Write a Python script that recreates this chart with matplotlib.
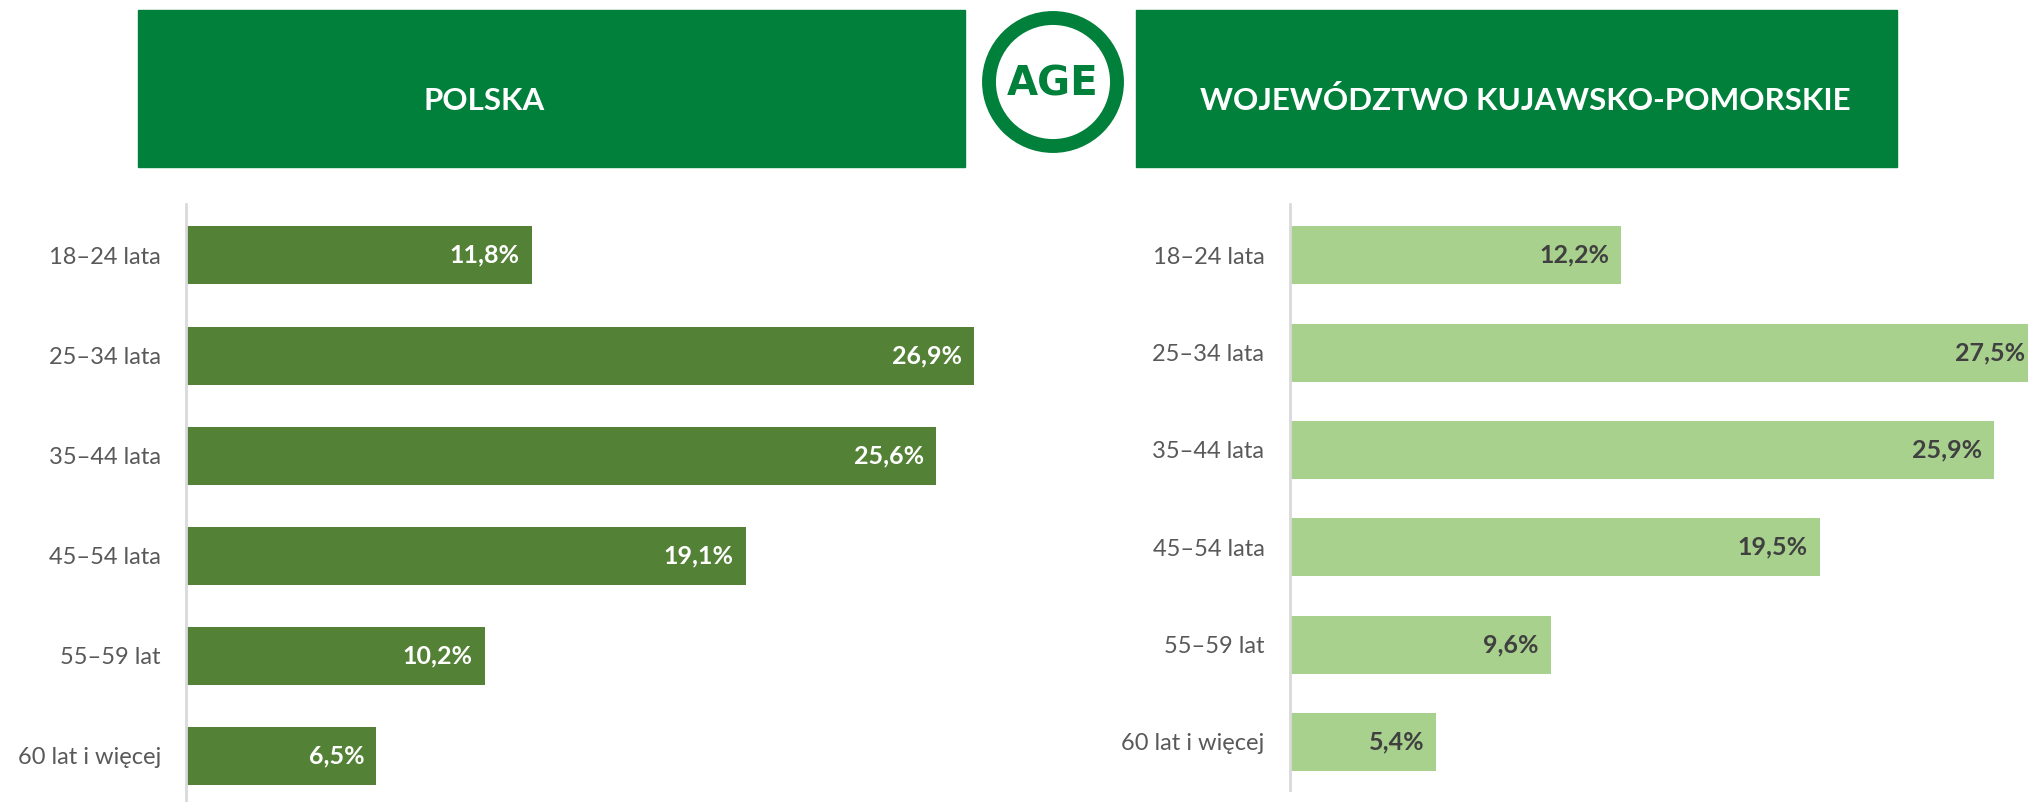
import matplotlib
matplotlib.use("Agg")
import matplotlib.pyplot as plt
from matplotlib.patches import Rectangle, Circle

plt.rcParams['font.family'] = ['Lato', 'DejaVu Sans']

categories = ["18–24 lata", "25–34 lata", "35–44 lata", "45–54 lata", "55–59 lat", "60 lat i więcej"]
polska = [11.8, 26.9, 25.6, 19.1, 10.2, 6.5]
kujawsko = [12.2, 27.5, 25.9, 19.5, 9.6, 5.4]
titles = ["POLSKA", "WOJEWÓDZTWO KUJAWSKO-POMORSKIE"]

W, H = 2028, 802
DPI = 100
header_green = "#00803A"
fig = plt.figure(figsize=(W / DPI, H / DPI), dpi=DPI)

# overlay in pixel coordinates for the banner and logo
over = fig.add_axes([0, 0, 1, 1])
over.set_xlim(0, W)
over.set_ylim(H, 0)
over.axis("off")
over.add_patch(Rectangle((138, 10), 827, 157, color=header_green))
over.add_patch(Rectangle((1136, 10), 761, 157, color=header_green))
over.text(424, 101, titles[0], color="white", fontsize=22.5, fontweight="bold",
          ha="left", va="center")
over.text(1200, 101, titles[1], color="white", fontsize=22.6, fontweight="bold",
          ha="left", va="center")
over.add_patch(Circle((1053, 82), 64, fill=False, lw=10, ec=header_green))
over.text(1053, 84, "AGE", color=header_green, fontsize=29, fontweight="heavy",
          family=["DejaVu Sans"], ha="center", va="center")


def draw_panel(left_px, top_px, bottom_px, px_per_pct, spacing, first_c,
               values, color, label_color):
    width_px = W - left_px
    ax = fig.add_axes([left_px / W, (H - bottom_px) / H, width_px / W, (bottom_px - top_px) / H])
    ax.patch.set_alpha(0)
    y = list(range(len(categories)))
    bar_h = 58 / spacing
    ax.barh(y, values, height=bar_h, color=color, clip_on=False)
    ax.set_xlim(0, width_px / px_per_pct)
    top_u = (first_c - top_px) / spacing
    bot_u = (bottom_px - first_c) / spacing
    ax.set_ylim(bot_u, -top_u)
    ax.set_yticks(y)
    ax.set_yticklabels(categories, fontsize=17, color="#595959")
    ax.tick_params(axis="y", length=0, pad=18)
    ax.set_xticks([])
    for s in ["top", "right", "bottom"]:
        ax.spines[s].set_visible(False)
    ax.spines["left"].set_color("#D9D9D9")
    ax.spines["left"].set_linewidth(2)
    off = 12 / px_per_pct
    for yi, v in zip(y, values):
        ax.text(v - off, yi, f"{v:.1f}%".replace(".", ","), ha="right", va="center",
                fontsize=18, fontweight="bold", color=label_color, clip_on=False)
    return ax


draw_panel(186, 204, 802, 29.3, 100.1, 255.4, polska, "#538135", "white")
draw_panel(1289.5, 204, 790, 27.2, 97.3, 255.4, kujawsko, "#A9D18E", "#404040")

fig.savefig("out.png", dpi=DPI)
